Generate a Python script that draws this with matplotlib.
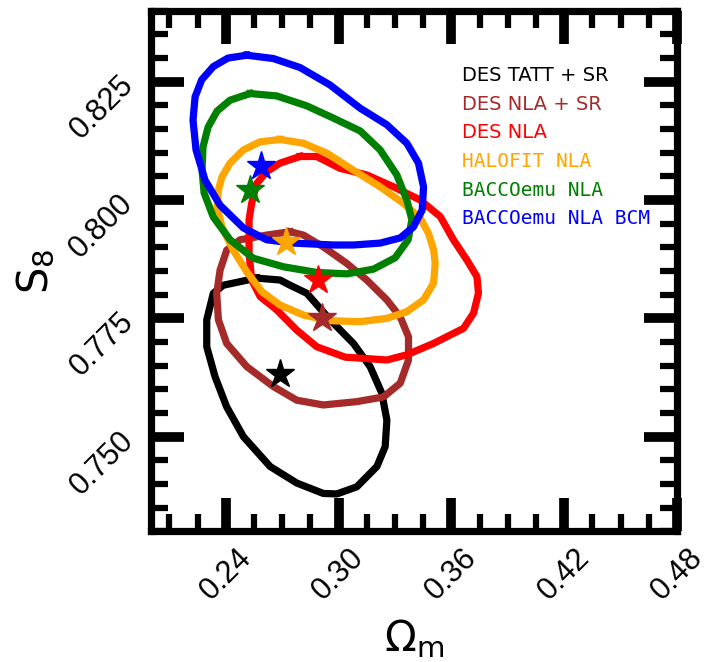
import numpy as np
import matplotlib.pyplot as plt
from matplotlib.ticker import MultipleLocator, FormatStrFormatter

# 68% contours in the (Omega_m, S8) plane, one per analysis set-up
tatt_sr_om = [0.2565, 0.2689, 0.2742, 0.2831, 0.2955, 0.3079, 0.3168, 0.3230, 0.3257, 0.3248,
              0.3204, 0.3097, 0.2991, 0.2919, 0.2778, 0.2636, 0.2494, 0.2405, 0.2343, 0.2299,
              0.2299, 0.2334, 0.2387]
tatt_sr_s8 = [0.7835, 0.7831, 0.7820, 0.7803, 0.7747, 0.7697, 0.7648, 0.7592, 0.7535, 0.7479,
              0.7437, 0.7394, 0.7379, 0.7380, 0.7402, 0.7437, 0.7500, 0.7563, 0.7627, 0.7690,
              0.7747, 0.7803, 0.7820]

nla_sr_om = [0.2742, 0.2813, 0.2919, 0.3044, 0.3150, 0.3257, 0.3328, 0.3372, 0.3372, 0.3328,
             0.3239, 0.3097, 0.2919, 0.2778, 0.2653, 0.2512, 0.2405, 0.2361, 0.2352, 0.2370,
             0.2405, 0.2476, 0.2618]
nla_sr_s8 = [0.7933, 0.7926, 0.7901, 0.7866, 0.7831, 0.7789, 0.7753, 0.7711, 0.7662, 0.7613,
             0.7584, 0.7574, 0.7567, 0.7577, 0.7606, 0.7648, 0.7697, 0.7747, 0.7803, 0.7852,
             0.7894, 0.7916, 0.7926]

nla_om = [0.2795, 0.2884, 0.3008, 0.3150, 0.3292, 0.3434, 0.3541, 0.3611, 0.3683, 0.3736,
          0.3744, 0.3718, 0.3665, 0.3505, 0.3363, 0.3257, 0.3115, 0.3035, 0.2884, 0.2778,
          0.2671, 0.2583, 0.2538, 0.2524, 0.2524, 0.2538, 0.2565, 0.2618, 0.2689]
nla_s8 = [0.8092, 0.8092, 0.8067, 0.8053, 0.8028, 0.8000, 0.7965, 0.7916, 0.7873, 0.7838,
          0.7803, 0.7761, 0.7729, 0.7697, 0.7673, 0.7662, 0.7666, 0.7668, 0.7690, 0.7725,
          0.7768, 0.7796, 0.7831, 0.7888, 0.7958, 0.7993, 0.8035, 0.8060, 0.8078]

halofit_om = [0.2689, 0.2813, 0.2938, 0.3079, 0.3221, 0.3345, 0.3434, 0.3478, 0.3506, 0.3514,
              0.3505, 0.3452, 0.3363, 0.3257, 0.3115, 0.2955, 0.2813, 0.2689, 0.2593, 0.2512,
              0.2440, 0.2380, 0.2354, 0.2361, 0.2380, 0.2423, 0.2494, 0.2583]
halofit_s8 = [0.8128, 0.8120, 0.8099, 0.8063, 0.8028, 0.7993, 0.7962, 0.7930, 0.7894, 0.7866,
              0.7824, 0.7789, 0.7764, 0.7750, 0.7743, 0.7745, 0.7757, 0.7778, 0.7806, 0.7848,
              0.7894, 0.7943, 0.7985, 0.8021, 0.8049, 0.8078, 0.8106, 0.8123]

bacco_om = [0.2529, 0.2671, 0.2831, 0.2973, 0.3115, 0.3221, 0.3310, 0.3363, 0.3390, 0.3370,
            0.3301, 0.3186, 0.3044, 0.2884, 0.2707, 0.2547, 0.2423, 0.2334, 0.2285, 0.2274,
            0.2279, 0.2306, 0.2354, 0.2423]
bacco_s8 = [0.8225, 0.8220, 0.8199, 0.8173, 0.8146, 0.8106, 0.8053, 0.8000, 0.7958, 0.7916,
            0.7878, 0.7854, 0.7844, 0.7847, 0.7859, 0.7877, 0.7916, 0.7964, 0.8015, 0.8063,
            0.8112, 0.8154, 0.8188, 0.8211]

bcm_om = [0.2512, 0.2653, 0.2795, 0.2955, 0.3115, 0.3257, 0.3363, 0.3425, 0.3452, 0.3445,
          0.3398, 0.3328, 0.3221, 0.3079, 0.2973, 0.2760, 0.2618, 0.2494, 0.2370, 0.2290,
          0.2242, 0.2226, 0.2237, 0.2272, 0.2334, 0.2412]
bcm_s8 = [0.8306, 0.8299, 0.8280, 0.8243, 0.8194, 0.8159, 0.8120, 0.8078, 0.8028, 0.7979,
          0.7943, 0.7920, 0.7909, 0.7905, 0.7905, 0.7909, 0.7916, 0.7941, 0.7989, 0.8042,
          0.8106, 0.8169, 0.8218, 0.8254, 0.8282, 0.8300]

# best-fit points (stars)
best_om = [0.2689, 0.2911, 0.2890, 0.2719, 0.2529, 0.2588]
best_s8 = [0.7632, 0.7750, 0.7831, 0.7912, 0.8021, 0.8072]

labels = ['DES TATT + SR', 'DES NLA + SR', 'DES NLA', 'HALOFIT NLA', 'BACCOemu NLA',
          'BACCOemu NLA BCM']
colors = ['black', 'brown', 'red', 'orange', 'green', 'blue']
label_fonts = ['DejaVu Sans', 'DejaVu Sans', 'DejaVu Sans', 'DejaVu Sans Mono',
               'DejaVu Sans Mono', 'DejaVu Sans Mono']

contours = [(tatt_sr_om, tatt_sr_s8), (nla_sr_om, nla_sr_s8), (nla_om, nla_s8),
            (halofit_om, halofit_s8), (bacco_om, bacco_s8), (bcm_om, bcm_s8)]

fig = plt.figure(figsize=(7.05, 6.62), dpi=100)
ax = fig.add_axes([0.2135, 0.1974, 0.7468, 0.7864])

for (om, s8), c in zip(contours, colors):
    ax.plot(om + om[:1], s8 + s8[:1], color=c, lw=5.2, solid_joinstyle='round')

for x, y, c in zip(best_om, best_s8, colors):
    ax.plot(x, y, marker='*', ms=21, color=c, zorder=5)

for i, (lab, c, fam) in enumerate(zip(labels, colors, label_fonts)):
    ax.text(0.5917, 0.865 - 0.055 * i, lab, transform=ax.transAxes, color=c,
            fontsize=14, family=fam, va='baseline')

ax.set_xlim(0.20, 0.48)
ax.set_ylim(0.73, 0.84)
ax.xaxis.set_major_locator(MultipleLocator(0.06))
ax.xaxis.set_minor_locator(MultipleLocator(0.015))
ax.yaxis.set_major_locator(MultipleLocator(0.025))
ax.yaxis.set_minor_locator(MultipleLocator(0.005))
ax.xaxis.set_major_formatter(FormatStrFormatter('%.2f'))
ax.yaxis.set_major_formatter(FormatStrFormatter('%.3f'))

ax.tick_params(which='both', direction='in', top=True, right=True)
ax.tick_params(which='major', length=24, width=7, labelsize=22, pad=8)
ax.tick_params(which='minor', length=12, width=4.5)
for lab in ax.get_xticklabels() + ax.get_yticklabels():
    lab.set_rotation(45)
    lab.set_family('Liberation Sans')
for sp in ax.spines.values():
    sp.set_linewidth(5.2)

ax.set_xlabel(r'$\Omega_{\rm m}$', fontsize=30, labelpad=8)
ax.set_ylabel(r'$\mathrm{S}_8$', fontsize=30, labelpad=5)

fig.savefig('out.png', dpi=100)
